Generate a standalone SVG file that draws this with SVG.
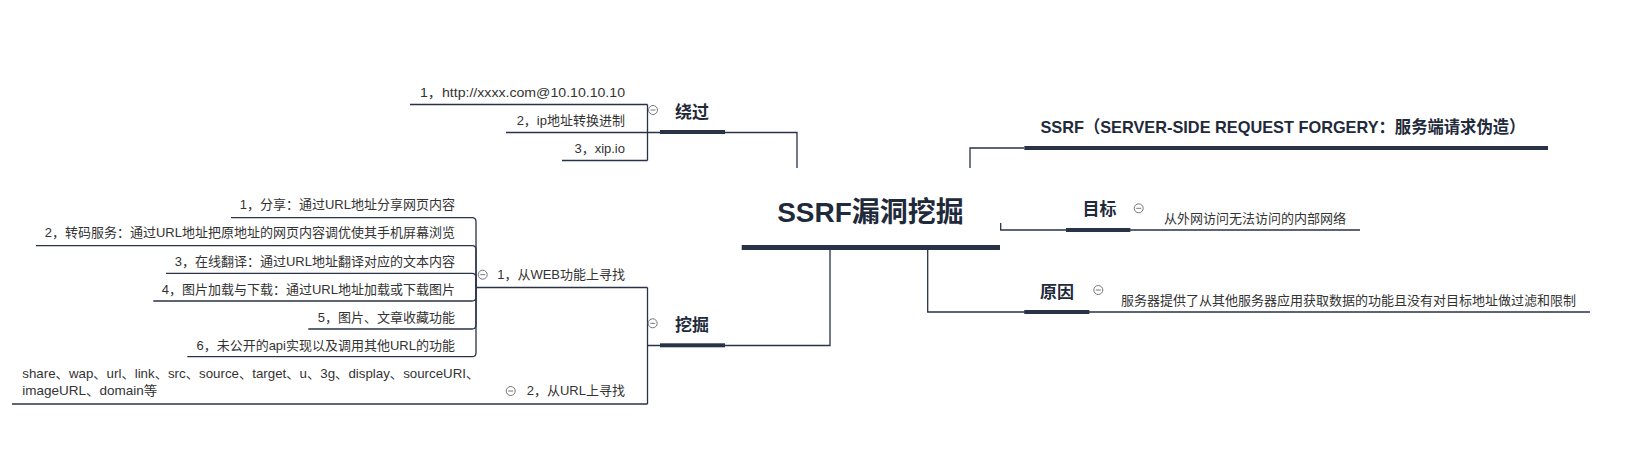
<svg xmlns="http://www.w3.org/2000/svg" width="1631" height="450" viewBox="0 0 1631 450">
<defs>
<style>
.t{font-family:"Liberation Sans","Noto Sans CJK SC",sans-serif;font-size:13px;fill:#333}
.b{font-family:"Liberation Sans","Noto Sans CJK SC",sans-serif;font-weight:bold;fill:#1f2a3b}
.e{text-anchor:end}
.ln{fill:none;stroke:#283347;stroke-width:1.3}
.bar{fill:#283347}
.cc{fill:#fff;stroke:#777;stroke-width:1}
.cm{stroke:#777;stroke-width:1}
</style>
<g id="tog">
<circle class="cc" cx="0" cy="0" r="4.5"/>
<line class="cm" x1="-2.5" y1="0" x2="2.5" y2="0"/>
</g>
</defs>
<rect width="1631" height="450" fill="#fff"/>
<g id="connectors">
<path class="ln" d="M797 168V132.5H647.5"/>
<path class="ln" d="M647.5 104.5V160.5"/>
<path class="ln" d="M410 104.5H647.5M506 132.5H647.5M562 160.5H647.5"/>
<path class="ln" d="M970 168V148H1024"/>
<path class="ln" d="M1000.7 223V230H1360"/>
<path class="ln" d="M927.7 250V312H1590"/>
<path class="ln" d="M830 250V345.5H647.5"/>
<path class="ln" d="M647.5 287.5V404"/>
<path class="ln" d="M476 287.5H647.5"/>
<path class="ln" d="M12 404H647.5"/>
<path class="ln" d="M231 217.7H472Q476 217.7 476 221.7V287.5"/>
<path class="ln" d="M36 245.7H472Q476 245.7 476 249.7V287.5"/>
<path class="ln" d="M166 273.3H472Q476 273.3 476 277.3V287.5"/>
<path class="ln" d="M153.3 301H472Q476 301 476 297V287.5"/>
<path class="ln" d="M308.3 329H472Q476 329 476 325V287.5"/>
<path class="ln" d="M187.3 356.7H472Q476 356.7 476 352.7V287.5"/>
</g>
<g id="root">
<text class="b" x="870.5" y="222" font-size="28" text-anchor="middle">SSRF漏洞挖掘</text>
<rect class="bar" x="741.7" y="245" width="258.3" height="5"/>
</g>
<g id="n-raoguo">
<text class="b" x="675" y="118" font-size="17">绕过</text>
<rect class="bar" x="660" y="130" width="65" height="4"/>
<use href="#tog" x="653" y="110"/>
</g>
<g id="n-rg1"><text class="t e" x="625" y="97" textLength="205" lengthAdjust="spacingAndGlyphs">1，http://xxxx.com@10.10.10.10</text></g>
<g id="n-rg2"><text class="t e" x="625" y="125">2，ip地址转换进制</text></g>
<g id="n-rg3"><text class="t e" x="625" y="153">3，xip.io</text></g>
<g id="n-title">
<text class="b" x="1040.4" y="133" font-size="17" textLength="485" lengthAdjust="spacingAndGlyphs">SSRF（SERVER-SIDE REQUEST FORGERY：服务端请求伪造）</text>
<rect class="bar" x="1024.3" y="146" width="523.7" height="4"/>
</g>
<g id="n-mubiao">
<text class="b" x="1082.5" y="215" font-size="17">目标</text>
<rect class="bar" x="1066" y="228" width="64.3" height="4"/>
<use href="#tog" x="1138.7" y="208.3"/>
</g>
<g id="n-mubiao-d"><text class="t" x="1164" y="223.3">从外网访问无法访问的内部网络</text></g>
<g id="n-yuanyin">
<text class="b" x="1040" y="298" font-size="17">原因</text>
<rect class="bar" x="1024.3" y="310" width="65" height="4"/>
<use href="#tog" x="1098.3" y="290"/>
</g>
<g id="n-yuanyin-d"><text class="t" x="1121" y="305">服务器提供了从其他服务器应用获取数据的功能且没有对目标地址做过滤和限制</text></g>
<g id="n-wajue">
<text class="b" x="675" y="331" font-size="17">挖掘</text>
<rect class="bar" x="660" y="343.3" width="65" height="4"/>
<use href="#tog" x="652.7" y="323.3"/>
</g>
<g id="n-web">
<text class="t e" x="625" y="279.3">1，从WEB功能上寻找</text>
<use href="#tog" x="482.7" y="274.7"/>
</g>
<g id="n-url">
<text class="t e" x="625" y="395">2，从URL上寻找</text>
<use href="#tog" x="510.7" y="391"/>
</g>
<g id="n-w1"><text class="t e" x="455" y="209.3">1，分享：通过URL地址分享网页内容</text></g>
<g id="n-w2"><text class="t e" x="455" y="237.3">2，转码服务：通过URL地址把原地址的网页内容调优使其手机屏幕浏览</text></g>
<g id="n-w3"><text class="t e" x="455" y="265.7">3，在线翻译：通过URL地址翻译对应的文本内容</text></g>
<g id="n-w4"><text class="t e" x="455" y="294">4，图片加载与下载：通过URL地址加载或下载图片</text></g>
<g id="n-w5"><text class="t e" x="455" y="321.7">5，图片、文章收藏功能</text></g>
<g id="n-w6"><text class="t e" x="455" y="350">6，未公开的api实现以及调用其他URL的功能</text></g>
<g id="n-params">
<text class="t" x="22.3" y="377.7" textLength="457" lengthAdjust="spacingAndGlyphs">share、wap、url、link、src、source、target、u、3g、display、sourceURI、</text>
<text class="t" x="22.3" y="395" textLength="135" lengthAdjust="spacingAndGlyphs">imageURL、domain等</text>
</g>
</svg>
